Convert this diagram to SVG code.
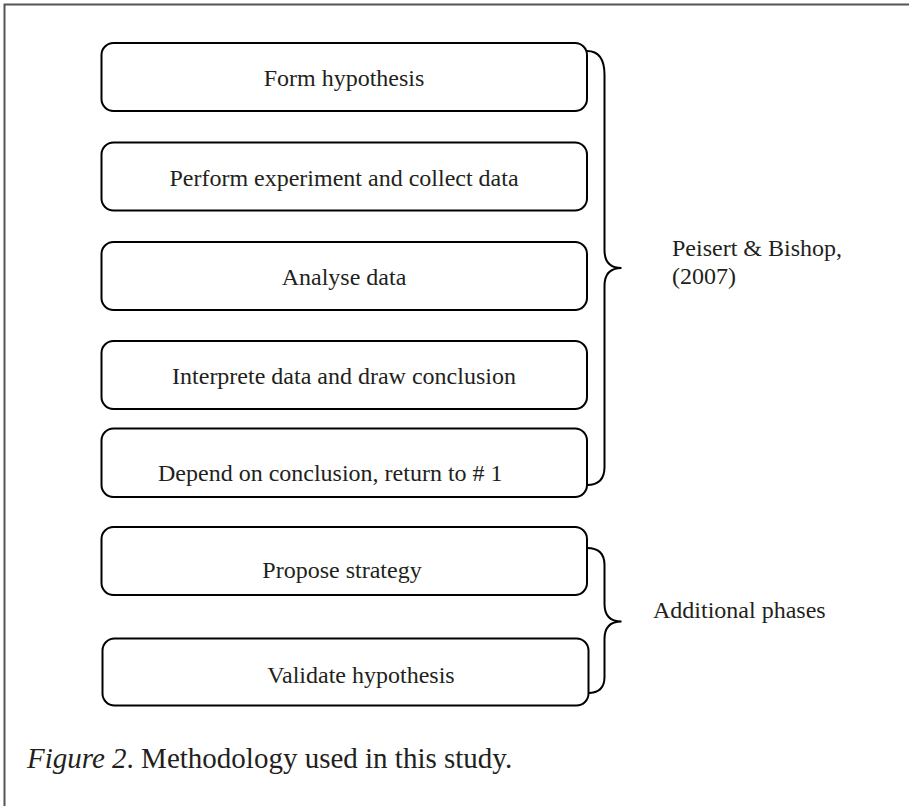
<svg xmlns="http://www.w3.org/2000/svg" width="909" height="806" viewBox="0 0 909 806">
<style>
.box{fill:#fff;stroke:#000;stroke-width:2}
.t{font-family:"Liberation Serif","Times New Roman",serif;font-size:24px;fill:#231f20}
.c{text-anchor:middle}
.br{fill:none;stroke:#000;stroke-width:2}
.frame{stroke:#555;stroke-width:2;fill:none}
</style>
<rect width="909" height="806" fill="#fff"/>
<path class="frame" d="M4.5,806 L4.5,4.5 L909,4.5"/>
<g id="connectors">
<path class="br" d="M587,51 C598,51 604.5,58 604.5,75 L604.5,250 C604.5,262 610,268 621.5,268 C610,268 604.5,274 604.5,286 L604.5,467 C604.5,479 598,485 587,485"/>
<path class="br" d="M587,548 C598,548 604.5,553 604.5,565 L604.5,604 C604.5,615 610,621.5 621.5,621.5 C610,621.5 604.5,628 604.5,639 L604.5,677 C604.5,688 598,693 588,693"/>
</g>
<g id="n1"><rect class="box" x="101.5" y="43" width="485.5" height="68" rx="12"/><text class="t c" x="344" y="86">Form hypothesis</text></g>
<g id="n2"><rect class="box" x="101.5" y="142.5" width="485.5" height="68" rx="12"/><text class="t c" x="344" y="186">Perform experiment and collect data</text></g>
<g id="n3"><rect class="box" x="101.5" y="242" width="485.5" height="68" rx="12"/><text class="t" x="344" y="285" text-anchor="middle">Analyse data</text></g>
<g id="n4"><rect class="box" x="101.5" y="341" width="485.5" height="68" rx="12"/><text class="t c" x="344" y="384">Interprete data and draw conclusion</text></g>
<g id="n5"><rect class="box" x="101.5" y="428.5" width="485.5" height="68.5" rx="12"/><text class="t" x="158" y="481">Depend on conclusion, return to # 1</text></g>
<g id="n6"><rect class="box" x="101.5" y="527" width="485.5" height="68" rx="12"/><text class="t c" x="342" y="578">Propose strategy</text></g>
<g id="n7"><rect class="box" x="102.5" y="638.5" width="486" height="67" rx="12"/><text class="t c" x="361" y="683">Validate hypothesis</text></g>
<g id="label-peisert"><text class="t" x="672" y="256">Peisert &amp; Bishop,</text><text class="t" x="672" y="283.5">(2007)</text></g>
<g id="label-additional"><text class="t" x="653" y="618">Additional phases</text></g>
<g id="caption"><text class="t" x="27" y="768" style="font-size:29px"><tspan font-style="italic">Figure 2</tspan>. Methodology used in this study.</text></g>
</svg>
